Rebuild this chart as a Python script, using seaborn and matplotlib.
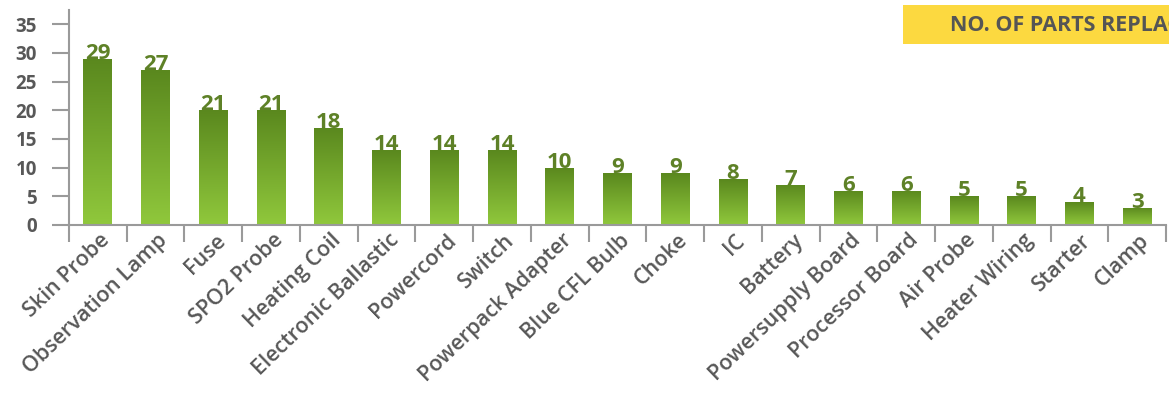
import numpy as np
import pandas as pd
import matplotlib
matplotlib.use("Agg")
import matplotlib.pyplot as plt
import matplotlib.transforms as mtransforms
from matplotlib.patches import Rectangle
from matplotlib.colors import LinearSegmentedColormap
import seaborn as sns

# -------------------------
# Data
# -------------------------
parts = ["Skin Probe", "Observation Lamp", "Fuse", "SPO2 Probe", "Heating Coil",
         "Electronic Ballastic", "Powercord", "Switch", "Powerpack Adapter",
         "Blue CFL Bulb", "Choke", "IC", "Battery", "Powersupply Board",
         "Processor Board", "Air Probe", "Heater Wiring", "Starter", "Clamp"]
# bar heights as drawn
bar_heights = [29, 27, 20, 20, 17, 13, 13, 13, 10, 9, 9, 8, 7, 6, 6, 5, 5, 4, 3]
# numbers printed above the bars
bar_labels = [29, 27, 21, 21, 18, 14, 14, 14, 10, 9, 9, 8, 7, 6, 6, 5, 5, 4, 3]

df = pd.DataFrame({"Part": parts, "Count": bar_heights, "Label": bar_labels})

sns.set_style("white")
plt.rcParams["font.family"] = ["Open Sans", "DejaVu Sans"]

gray = "#585858"
axis_gray = "#9a9a9a"

fig = plt.figure(figsize=(11.69, 3.93), dpi=100)
ax = fig.add_axes([0.059, 0.4275, 0.9385, 0.5471])

sns.barplot(data=df, x="Part", y="Count", width=0.5, color="#7aab2e", ax=ax)

# vertical gradient inside each bar
cmap = LinearSegmentedColormap.from_list("grn", ["#90c83c", "#5a881e"])
grad = np.linspace(0, 1, 256).reshape(-1, 1)
for p in ax.patches:
    x0, y0 = p.get_x(), p.get_y()
    w, h = p.get_width(), p.get_height()
    im = ax.imshow(grad, cmap=cmap, origin="lower", aspect="auto",
                   extent=[x0, x0 + w, y0, y0 + h], zorder=2)
    im.set_clip_path(p)
    p.set_facecolor("none")
    p.set_edgecolor("none")

for i, (h, lab) in enumerate(zip(bar_heights, bar_labels)):
    ax.text(i, h, str(lab), ha="center", va="baseline", fontsize=16,
            fontweight="bold", color="#5e8127", zorder=3)

ax.set_xlim(-0.5, len(parts) - 0.5)
ax.set_ylim(0, 37.5)
ax.set_yticks(range(0, 36, 5))
ax.set_xlabel("")
ax.set_ylabel("")

# tick marks on category boundaries, labels at centres
ax.set_xticks(np.arange(-0.5, len(parts), 1.0), minor=True)
ax.set_xticks(range(len(parts)))
ax.set_xticklabels(parts, rotation=44, ha="right", va="center",
                   rotation_mode="anchor", fontsize=15.5, color=gray,
                   fontweight="semibold")
ax.tick_params(axis="x", which="major", length=0, pad=9)
ax.tick_params(axis="x", which="minor", length=12, width=1.5, color=axis_gray,
               direction="out", bottom=True)
shift = mtransforms.ScaledTranslation(9 / 100, 0, fig.dpi_scale_trans)
for t in ax.get_xticklabels():
    t.set_transform(t.get_transform() + shift)
ax.tick_params(axis="y", length=12, width=1.5, color=axis_gray, direction="out",
               pad=11, labelsize=13.5, labelcolor=gray, left=True)
for t in ax.get_yticklabels():
    t.set_fontweight("bold")

for s in ["top", "right"]:
    ax.spines[s].set_visible(False)
for s in ["left", "bottom"]:
    ax.spines[s].set_color(axis_gray)
    ax.spines[s].set_linewidth(1.5)

# yellow header box, cut by the right edge as in the original
fig.patches.append(Rectangle((0.7725, 0.888), 0.25, 0.099, transform=fig.transFigure,
                             facecolor="#fcd940", edgecolor="none", zorder=0))
fig.text(0.8125, 0.936, "NO. OF PARTS REPLACED", ha="left", va="center",
         fontsize=15.5, fontweight="bold", color="#555555")

fig.savefig("out.png", dpi=100)
